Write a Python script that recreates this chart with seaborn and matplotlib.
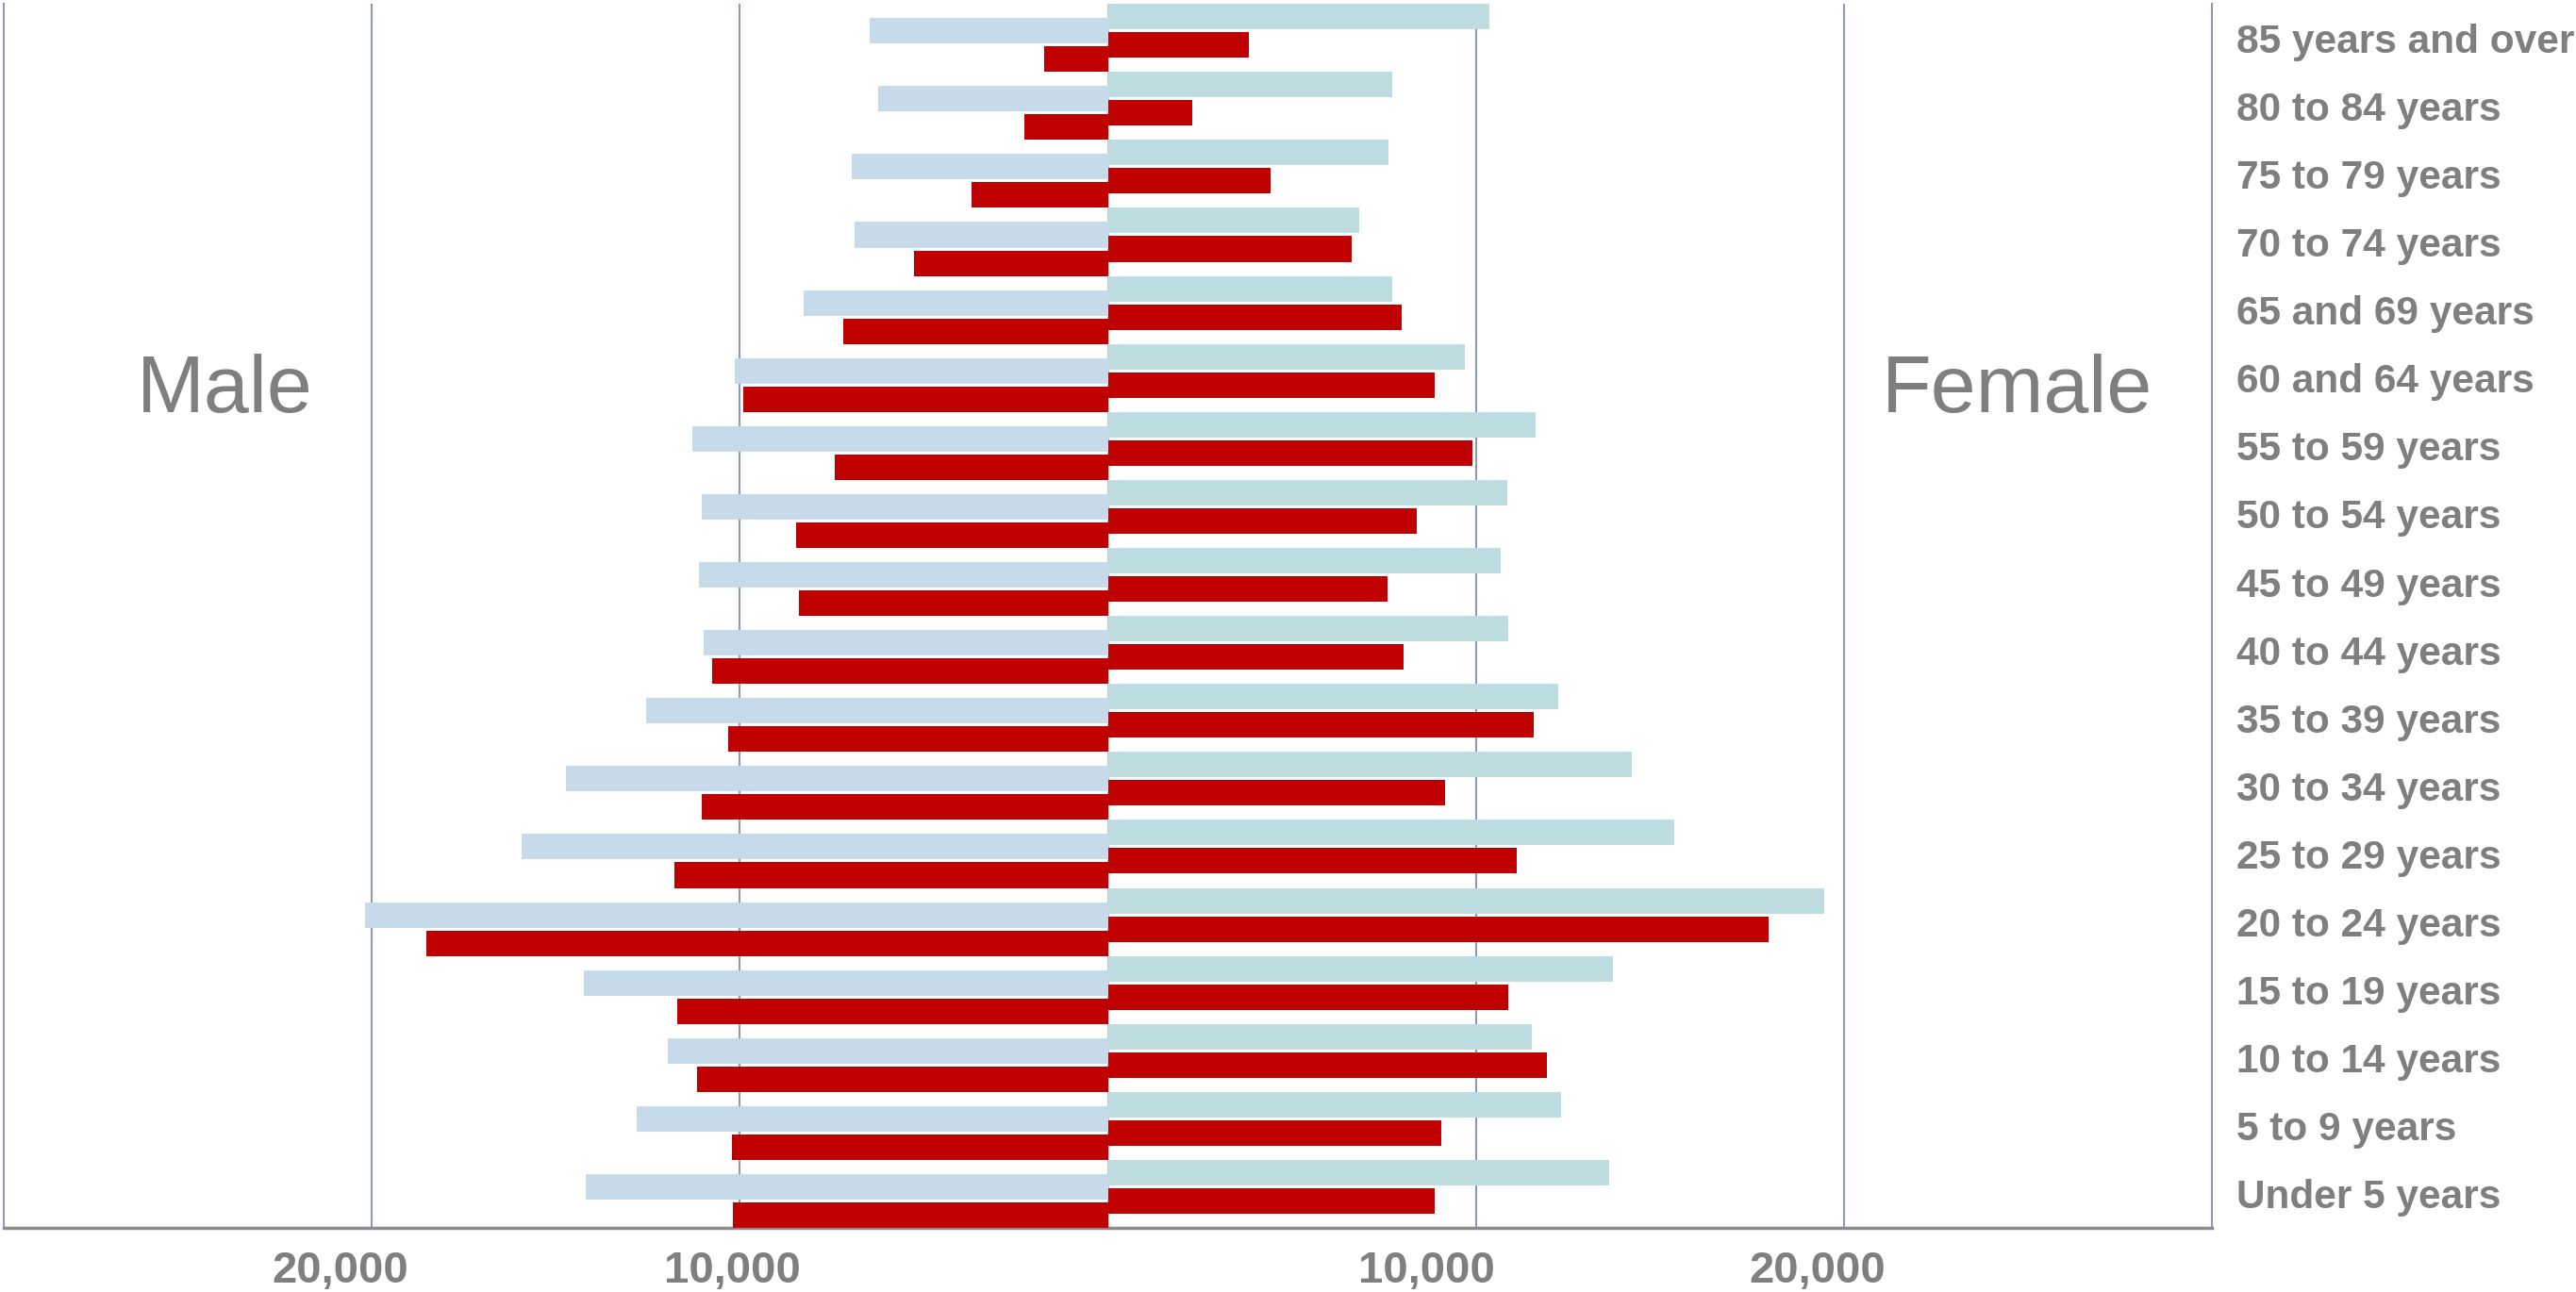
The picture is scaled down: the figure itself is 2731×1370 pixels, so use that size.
import numpy as np
import pandas as pd
import matplotlib
matplotlib.use("Agg")
import matplotlib.pyplot as plt
import matplotlib.transforms as mtransforms
import seaborn as sns

# age groups, top of the pyramid first
age_groups = ["85 years and over", "80 to 84 years", "75 to 79 years", "70 to 74 years",
              "65 and 69 years", "60 and 64 years", "55 to 59 years", "50 to 54 years",
              "45 to 49 years", "40 to 44 years", "35 to 39 years", "30 to 34 years",
              "25 to 29 years", "20 to 24 years", "15 to 19 years", "10 to 14 years",
              "5 to 9 years", "Under 5 years"]

male_light = [6470, 6250, 6960, 6880, 8260, 10130, 11290, 11030, 11120, 10980,
              12540, 14730, 15940, 20180, 14240, 11960, 12810, 14200]
male_dark = [1740, 2280, 3710, 5270, 7190, 9910, 7410, 8480, 8390, 10760,
             10310, 11030, 11790, 18530, 11700, 11160, 10220, 10180]
female_light = [10360, 7720, 7630, 6830, 7720, 9690, 11610, 10850, 10670, 10890,
                12230, 14240, 15400, 19460, 13710, 11520, 12320, 13620]
female_dark = [3840, 2280, 4420, 6610, 7990, 8880, 9910, 8390, 7590, 8040,
               11560, 9150, 11120, 17950, 10890, 11920, 9060, 8880]

x_ticks = [-20000, -10000, 10000, 20000]
x_tick_labels = ["20,000", "10,000", "10,000", "20,000"]

sns.set_theme(style="white")
plt.rcParams['font.family'] = ['Liberation Sans', 'DejaVu Sans']
grey = "#7F7F7F"

fig, ax = plt.subplots(figsize=(27.31, 13.70), dpi=100)
fig.subplots_adjust(left=0.0015, right=0.8587, bottom=0.0496, top=0.997)

idx = np.arange(len(age_groups))
# (values, side, offset within the row, colour)
series = [
    (female_light, 1, -0.3125, "#BEDDE1"),
    (male_light, -1, -0.104, "#C7DAEA"),
    (female_dark, 1, 0.104, "#C00000"),
    (male_dark, -1, 0.3125, "#C00000"),
]
for vals, side, off, col in series:
    df = pd.DataFrame({"pos": idx + off, "value": side * np.array(vals)})
    sns.barplot(data=df, x="value", y="pos", orient="y", native_scale=True,
                width=0.375, color=col, saturation=1, errorbar=None,
                linewidth=0, ax=ax, zorder=3)

ax.set_xlim(-30000, 30000)
ax.set_ylim(len(age_groups) - 0.5, -0.5)

# vertical gridlines
for gx in [-20000, -10000, 10000, 20000]:
    ax.axvline(gx, color="#8D9BB0", lw=1.5, zorder=1)
ax.axvline(0, color="#C8C8C8", lw=1.5, zorder=1)

ax.set_xticks(x_ticks)
ax.set_xticklabels(x_tick_labels)
ax.tick_params(axis="x", length=0, pad=17, labelsize=34, labelcolor=grey)
# labels in the original sit a little left of their gridlines
shifts = [-34, -8, -52, -28]
for lab, dx in zip(ax.get_xticklabels(), shifts):
    lab.set_fontweight("bold")
    lab.set_transform(lab.get_transform() + mtransforms.ScaledTranslation(dx / 100, 0, fig.dpi_scale_trans))

ax.set_yticks(idx)
ax.set_yticklabels(age_groups)
ax.yaxis.tick_right()
ax.tick_params(axis="y", length=0, pad=19, labelsize=30.5, labelcolor=grey)
for lab in ax.get_yticklabels():
    lab.set_fontweight("bold")
    lab.set_horizontalalignment("left")

ax.set_xlabel("")
ax.set_ylabel("")

ax.spines["top"].set_visible(False)
for s in ["left", "right"]:
    ax.spines[s].set_color("#8D9BB0")
    ax.spines[s].set_linewidth(1.5)
ax.spines["bottom"].set_color("#8C8C8C")
ax.spines["bottom"].set_linewidth(2.5)

ax.text(-24000, 5.2, "Male", fontsize=62, color=grey, ha="center", va="center")
ax.text(24700, 5.2, "Female", fontsize=62, color=grey, ha="center", va="center")

fig.savefig("out.png", dpi=100)
